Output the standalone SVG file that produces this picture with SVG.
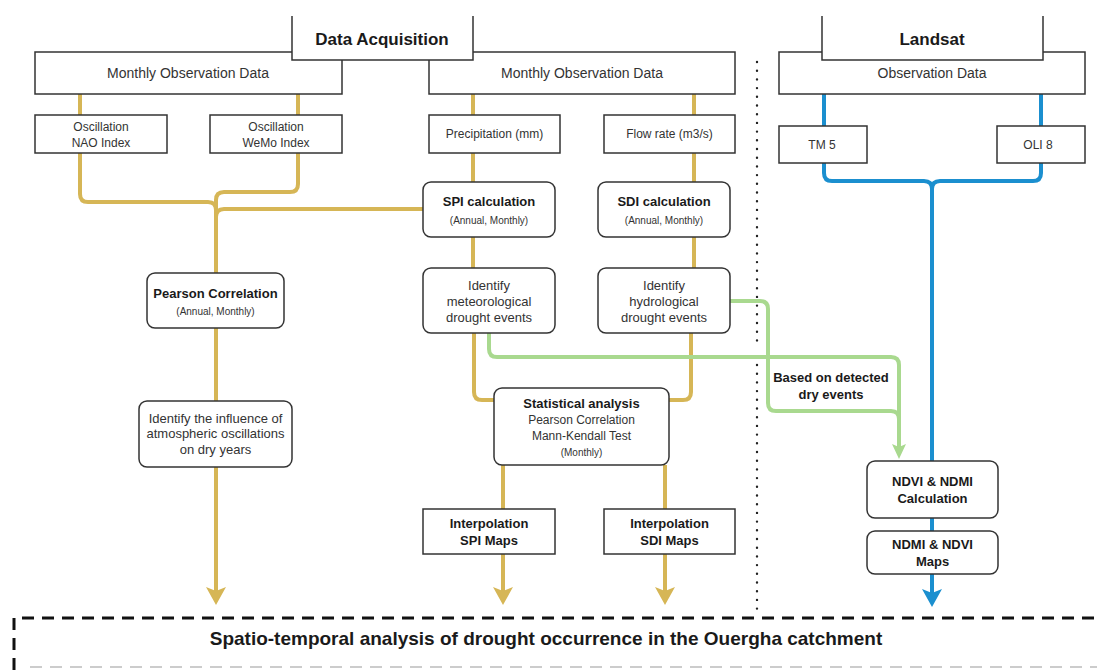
<svg xmlns="http://www.w3.org/2000/svg" width="1097" height="670" viewBox="0 0 1097 670">
<style>
.box{fill:#fff;stroke:#333;stroke-width:1.5}
.t{font-family:"Liberation Sans",Arial,sans-serif;fill:#333;text-anchor:middle}
.b{font-weight:bold;fill:#1a1a1a}
.gold{fill:none;stroke:#d6b656;stroke-width:4}
.blue{fill:none;stroke:#1b8fcf;stroke-width:4}
.green{fill:none;stroke:#a9d98f;stroke-width:4}
</style>
<defs>
<marker id="ag" viewBox="0 0 18 20" markerWidth="18" markerHeight="20" refX="4" refY="10" orient="auto" markerUnits="userSpaceOnUse"><path d="M0,0 L18,10 L0,20 L4,10 Z" fill="#d6b656"/></marker>
<marker id="ab" viewBox="0 0 18 20" markerWidth="18" markerHeight="20" refX="4" refY="10" orient="auto" markerUnits="userSpaceOnUse"><path d="M0,0 L18,10 L0,20 L4,10 Z" fill="#1b8fcf"/></marker>
<marker id="agr" viewBox="0 0 15 14" markerWidth="15" markerHeight="14" refX="3" refY="7" orient="auto" markerUnits="userSpaceOnUse"><path d="M0,0 L15,7 L0,14 L3,7 Z" fill="#a9d98f"/></marker>
</defs>
<rect width="1097" height="670" fill="#fff"/>

<g id="separator">
<line x1="757" y1="62" x2="757" y2="347" stroke="#222" stroke-width="2.4" stroke-linecap="round" stroke-dasharray="0 8.7"/>
<line x1="757" y1="365" x2="757" y2="612" stroke="#222" stroke-width="2.4" stroke-linecap="round" stroke-dasharray="0 8.7"/>
</g>

<g id="connectors">
<path class="gold" d="M80,94 V115"/>
<path class="gold" d="M298,94 V115"/>
<path class="gold" d="M473,94 V115"/>
<path class="gold" d="M694,94 V115"/>
<path class="gold" d="M473,153 V182"/>
<path class="gold" d="M694,153 V182"/>
<path class="gold" d="M80,153 V194 Q80,202 88,202 H208 Q216,202 216,210"/>
<path class="gold" d="M298,153 V184 Q298,192 290,192 H224 Q216,192 216,200 V273"/>
<path class="gold" d="M423,209 H224 Q216,209 216,217"/>
<path class="gold" d="M216,328 V401"/>
<path class="gold" d="M216,467 V591" marker-end="url(#ag)"/>
<path class="gold" d="M473,237 V268"/>
<path class="gold" d="M694,237 V268"/>
<path class="gold" d="M474,333 V392 Q474,400 482,400 H494"/>
<path class="gold" d="M691,333 V392 Q691,400 683,400 H669"/>
<path class="gold" d="M503,465 V509"/>
<path class="gold" d="M665,465 V509"/>
<path class="gold" d="M503,554 V591" marker-end="url(#ag)"/>
<path class="gold" d="M665,554 V591" marker-end="url(#ag)"/>
<path class="blue" d="M824,94 V126"/>
<path class="blue" d="M1041,94 V126"/>
<path class="blue" d="M824,163 V173 Q824,181 832,181 H924 Q932,181 932,189 V461"/>
<path class="blue" d="M1041,163 V173 Q1041,181 1033,181 H940 Q932,181 932,189"/>
<path class="blue" d="M932,518 V531"/>
<path class="blue" d="M932,574 V593" marker-end="url(#ab)"/>
<path class="green" d="M489,333 V349 Q489,357 497,357 H891 Q899,357 899,365 V447" marker-end="url(#agr)"/>
<path class="green" d="M730,301 H760 Q768,301 768,309 V403 Q768,411 776,411 H891 Q899,411 899,419"/>
<text class="t b" x="831" y="381.5" font-size="13">Based on detected</text>
<text class="t b" x="831" y="398.5" font-size="13">dry events</text>
</g>

<g id="monthly-left"><rect class="box" x="35" y="52" width="307" height="42"/><text class="t" x="188" y="78" font-size="14">Monthly Observation Data</text></g>
<g id="monthly-mid"><rect class="box" x="429" y="52" width="306" height="42"/><text class="t" x="582" y="78" font-size="14">Monthly Observation Data</text></g>
<g id="observation"><rect class="box" x="779" y="52" width="306" height="42"/><text class="t" x="932" y="78" font-size="14">Observation Data</text></g>
<g id="data-acquisition"><rect x="292" y="16" width="181" height="44" fill="#fff"/><path d="M292,16 V60 H473 V16" fill="none" stroke="#333" stroke-width="1.5"/><text class="t b" x="382" y="45" font-size="17">Data Acquisition</text></g>
<g id="landsat"><rect x="822" y="16" width="221" height="44" fill="#fff"/><path d="M822,16 V60 H1043 V16" fill="none" stroke="#333" stroke-width="1.5"/><text class="t b" x="932" y="45" font-size="17">Landsat</text></g>

<g id="nao"><rect class="box" x="35" y="115" width="132" height="38"/><text class="t" x="101" y="131" font-size="12">Oscillation</text><text class="t" x="101" y="147" font-size="12">NAO Index</text></g>
<g id="wemo"><rect class="box" x="210" y="115" width="132" height="38"/><text class="t" x="276" y="131" font-size="12">Oscillation</text><text class="t" x="276" y="147" font-size="12">WeMo Index</text></g>
<g id="precip"><rect class="box" x="429" y="115" width="131" height="38"/><text class="t" x="494.5" y="138" font-size="12">Precipitation (mm)</text></g>
<g id="flow"><rect class="box" x="604" y="115" width="131" height="38"/><text class="t" x="669.5" y="138" font-size="12">Flow rate (m3/s)</text></g>
<g id="tm5"><rect class="box" x="779" y="126" width="88" height="37"/><text class="t" x="822" y="149" font-size="12">TM 5</text></g>
<g id="oli8"><rect class="box" x="997" y="126" width="88" height="37"/><text class="t" x="1038" y="149" font-size="12">OLI 8</text></g>

<g id="spi"><rect class="box" x="423" y="182" width="132" height="55" rx="8"/><text class="t b" x="489" y="206" font-size="13">SPI calculation</text><text class="t" x="489" y="223.5" font-size="10">(Annual, Monthly)</text></g>
<g id="sdi"><rect class="box" x="598" y="182" width="132" height="55" rx="8"/><text class="t b" x="664" y="206" font-size="13">SDI calculation</text><text class="t" x="664" y="223.5" font-size="10">(Annual, Monthly)</text></g>

<g id="pearson"><rect class="box" x="147" y="273" width="137" height="55" rx="8"/><text class="t b" x="215.5" y="297.5" font-size="13">Pearson Correlation</text><text class="t" x="215.5" y="314.5" font-size="10">(Annual, Monthly)</text></g>
<g id="influence"><rect class="box" x="139" y="401" width="153" height="66" rx="8"/><text class="t" x="215.5" y="422.5" font-size="13">Identify the influence of</text><text class="t" x="215.5" y="438" font-size="13">atmospheric oscillations</text><text class="t" x="215.5" y="453.5" font-size="13">on dry years</text></g>

<g id="meteo"><rect class="box" x="423" y="268" width="132" height="65" rx="8"/><text class="t" x="489" y="289.5" font-size="13">Identify</text><text class="t" x="489" y="305.5" font-size="13">meteorological</text><text class="t" x="489" y="321.5" font-size="13">drought events</text></g>
<g id="hydro"><rect class="box" x="598" y="268" width="132" height="65" rx="8"/><text class="t" x="664" y="289.5" font-size="13">Identify</text><text class="t" x="664" y="305.5" font-size="13">hydrological</text><text class="t" x="664" y="321.5" font-size="13">drought events</text></g>

<g id="stat"><rect class="box" x="494" y="388" width="175" height="77" rx="8"/><text class="t b" x="581.5" y="407.5" font-size="13">Statistical analysis</text><text class="t" x="581.5" y="423.5" font-size="12">Pearson Correlation</text><text class="t" x="581.5" y="440" font-size="12">Mann-Kendall Test</text><text class="t" x="581.5" y="455.5" font-size="10">(Monthly)</text></g>

<g id="interp-spi"><rect class="box" x="423" y="509" width="132" height="45"/><text class="t b" x="489" y="527.5" font-size="13">Interpolation</text><text class="t b" x="489" y="544.5" font-size="13">SPI Maps</text></g>
<g id="interp-sdi"><rect class="box" x="604" y="509" width="131" height="45"/><text class="t b" x="669.5" y="527.5" font-size="13">Interpolation</text><text class="t b" x="669.5" y="544.5" font-size="13">SDI Maps</text></g>

<g id="ndvi-calc"><rect class="box" x="867" y="461" width="131" height="57" rx="8"/><text class="t b" x="932.5" y="485.5" font-size="13">NDVI &amp; NDMI</text><text class="t b" x="932.5" y="502.5" font-size="13">Calculation</text></g>
<g id="ndmi-maps"><rect class="box" x="867" y="531" width="131" height="43" rx="8"/><text class="t b" x="932.5" y="548.5" font-size="13">NDMI &amp; NDVI</text><text class="t b" x="932.5" y="565.5" font-size="13">Maps</text></g>

<g id="spatio-temporal">
<path d="M14,670 V618 H1097" fill="none" stroke="#111" stroke-width="3" stroke-dasharray="12 8"/>
<line x1="30" y1="667" x2="1097" y2="667" stroke="#ccc" stroke-width="2" stroke-dasharray="12 8"/>
<text class="t b" x="546" y="645" font-size="19" fill="#111">Spatio-temporal analysis of drought occurrence in the Ouergha catchment</text>
</g>
</svg>
